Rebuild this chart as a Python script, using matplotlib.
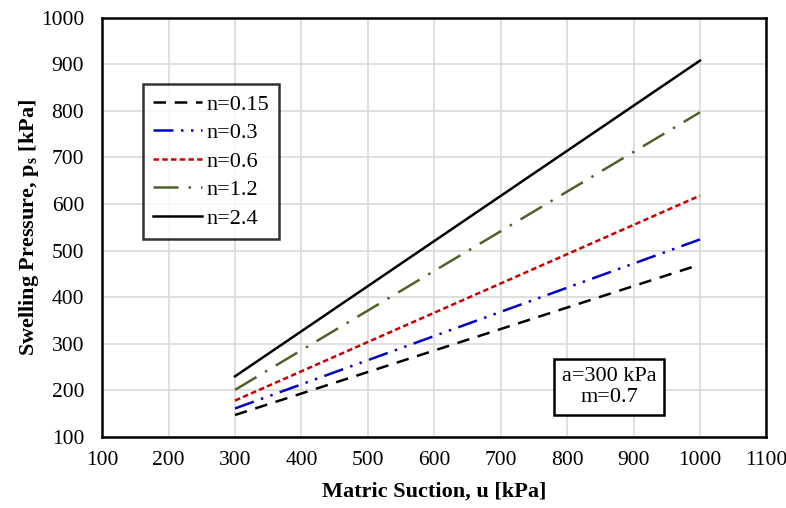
import matplotlib
matplotlib.use('Agg')
import matplotlib.pyplot as plt
from matplotlib import rcParams

rcParams['font.family'] = ['Liberation Serif', 'DejaVu Serif']
rcParams['mathtext.fontset'] = 'custom'
rcParams['mathtext.rm'] = 'Liberation Serif'
rcParams['mathtext.bf'] = 'Liberation Serif:bold'

# data
suction = [300, 1000]
labels = ['n=0.15', 'n=0.3', 'n=0.6', 'n=1.2', 'n=2.4']
p_015 = [147, 470]
p_03 = [161, 524]
p_06 = [178, 618]
p_12 = [201, 797]
p_24 = [230, 908]
series = [p_015, p_03, p_06, p_12, p_24]

colors = ['black', '#0000cc', '#cc0000', '#4f6228', 'black']
styles = [(0, (5, 3.5)), (0, (8, 3, 1, 3, 1, 3)), (0, (2.2, 1.3)), (0, (10, 4, 1, 4)), '-']

DPI = 100
fig = plt.figure(figsize=(7.86, 5.08), dpi=DPI, facecolor='white')
ax = fig.add_axes([0.130, 0.140, 0.845, 0.825])

for vals, lab, c, ls in zip(series, labels, colors, styles):
    ax.plot(suction, vals, color=c, linestyle=ls, linewidth=1.8, label=lab)

ax.set_xlim(100, 1100)
ax.set_ylim(100, 1000)
ax.set_xticks(range(100, 1101, 100))
ax.set_yticks(range(100, 1001, 100))
ax.grid(True, color='#d9d9d9', linewidth=1.2)
ax.set_axisbelow(True)
ax.tick_params(length=0, labelsize=15.5)
ax.tick_params(axis='y', pad=13)
ax.tick_params(axis='x', pad=10)
for s in ax.spines.values():
    s.set_linewidth(1.8)
    s.set_color('black')

ax.set_xlabel('Matric Suction, u [kPa]', fontsize=16, fontweight='bold', labelpad=8.5)
ax.set_ylabel(r'Swelling Pressure, p$_\mathbf{s}$ [kPa]', fontsize=16, fontweight='bold', labelpad=0)

leg = ax.legend(loc='upper left', bbox_to_anchor=(0.062, 0.842), fontsize=16,
                frameon=True, fancybox=False, edgecolor='black', handlelength=2.2,
                handletextpad=0.2, borderpad=0.45, labelspacing=0.36, borderaxespad=0)
leg.get_frame().set_linewidth(1.8)

ax.text(0.763, 0.12, 'a=300 kPa\nm=0.7', transform=ax.transAxes, ha='center', va='center',
        fontsize=16, linespacing=1.15,
        bbox=dict(boxstyle='square,pad=0.36', facecolor='white', edgecolor='black', linewidth=1.8))

plt.savefig('out.png', dpi=DPI, facecolor='white')
plt.close()
